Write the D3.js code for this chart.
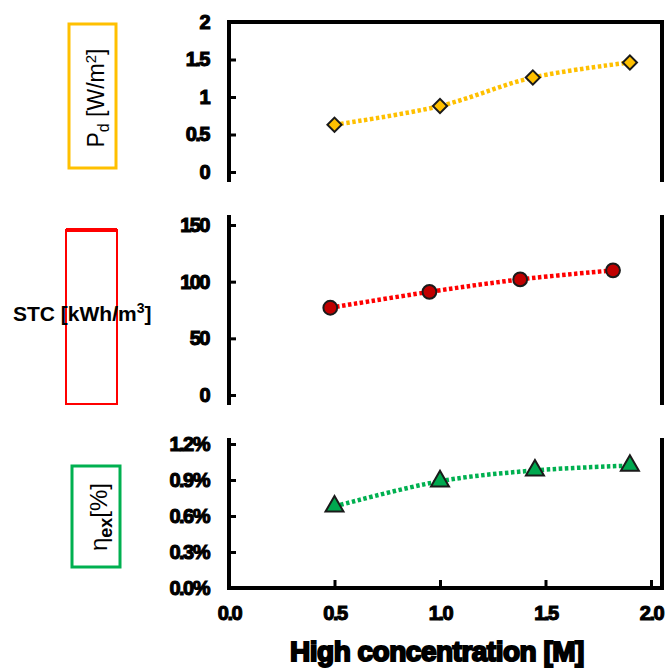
<!DOCTYPE html>
<html>
<head>
<meta charset="utf-8">
<script src="https://cdn.jsdelivr.net/npm/d3@7"></script>
<style>
  body { margin: 0; background: #fff; }
  text { font-family: "Liberation Sans", Arial, sans-serif; }
</style>
</head>
<body>
<svg id="chart" width="668" height="668"></svg>
<script>
// values
let pdConc = [0.5, 1.0, 1.44, 1.9];
let pdValues = [0.63, 0.88, 1.26, 1.46];
let stcConc = [0.48, 0.95, 1.38, 1.82];
let stcValues = [77, 91, 102, 110];
let etaConc = [0.5, 1.0, 1.45, 1.9];
let etaValues = [0.0068, 0.0089, 0.0098, 0.0102];

let xTicks = [0.0, 0.5, 1.0, 1.5, 2.0];
let pdTicks = [0, 0.5, 1, 1.5, 2];
let stcTicks = [0, 50, 100, 150];
let etaTicks = [0, 0.003, 0.006, 0.009, 0.012];

function drawChart() {
    let svg = d3.select("#chart");

    let x = d3.scaleLinear().domain([0, 2]).range([229, 651]);
    let yPd = d3.scaleLinear().domain([0, 2]).range([172, 22]);
    let yStc = d3.scaleLinear().domain([0, 150]).range([395, 225]);
    let yEta = d3.scaleLinear().domain([0, 0.012]).range([588, 444]);

    let xLeft = 229, xRight = 662;

    // frame lines
    let frame = svg.append("g")
        .attr("stroke", "#000")
        .attr("stroke-width", 4)
        .attr("fill", "none");
    frame.append("path").attr("d", `M${xLeft},${yPd(0) + 10}V${yPd(2)}H${xRight}V${yPd(0) + 10}`);
    frame.append("path").attr("d", `M${xLeft},${yStc(150) - 10}V${yStc(0) + 10}`);
    frame.append("path").attr("d", `M${xRight},${yStc(150) - 10}V${yStc(0) + 10}`);
    frame.append("path").attr("d", `M${xLeft},${yEta(0.012) - 6}V${yEta(0)}H${xRight}V${yEta(0.012) - 6}`);

    function styleAxis(g) {
        g.select(".domain").remove();
        g.selectAll(".tick line").attr("stroke", "#000").attr("stroke-width", 3);
        g.selectAll(".tick text")
            .attr("fill", "#000")
            .attr("stroke", "#000")
            .attr("stroke-width", 1.1)
            .style("font-size", "20px")
            .style("font-weight", "bold")
            .style("letter-spacing", "-1.5px");
    }

    svg.append("g")
        .attr("transform", `translate(${xLeft},0)`)
        .call(d3.axisLeft(yPd).tickValues(pdTicks).tickFormat(d3.format("")).tickSizeInner(-7).tickSizeOuter(0).tickPadding(20))
        .call(styleAxis);
    svg.append("g")
        .attr("transform", `translate(${xLeft},0)`)
        .call(d3.axisLeft(yStc).tickValues(stcTicks).tickFormat(d3.format("d")).tickSizeInner(-7).tickSizeOuter(0).tickPadding(20))
        .call(styleAxis);
    svg.append("g")
        .attr("transform", `translate(${xLeft},0)`)
        .call(d3.axisLeft(yEta).tickValues(etaTicks).tickFormat(d3.format(".1%")).tickSizeInner(-7).tickSizeOuter(0).tickPadding(20))
        .call(styleAxis);
    let xAxis = svg.append("g")
        .attr("transform", `translate(0,${yEta(0)})`)
        .call(d3.axisBottom(x).tickValues(xTicks).tickFormat(d3.format(".1f")).tickSizeInner(-8).tickSizeOuter(0).tickPadding(18))
        .call(styleAxis);
    xAxis.selectAll(".tick").filter(d => d === 0).select("line").remove();

    // x title
    svg.append("text")
        .attr("x", 437).attr("y", 661)
        .attr("text-anchor", "middle")
        .attr("fill", "#000").attr("stroke", "#000").attr("stroke-width", 2)
        .style("font-size", "28px").style("font-weight", "bold")
        .style("letter-spacing", "-0.5px")
        .text("High concentration [M]");

    // series
    function series(xs, ys, yScale, lineColor, fillColor, shape, size, rot) {
        let pts = xs.map((v, i) => [x(v), yScale(ys[i])]);
        svg.append("path")
            .attr("d", d3.line().curve(d3.curveCatmullRom)(pts))
            .attr("fill", "none")
            .attr("stroke", lineColor)
            .attr("stroke-width", 4.5)
            .attr("stroke-dasharray", "3.5,2.5");
        svg.selectAll(null)
            .data(pts)
            .enter()
            .append("path")
            .attr("d", d3.symbol().type(shape).size(size))
            .attr("transform", d => `translate(${d[0]},${d[1]}) rotate(${rot})`)
            .attr("fill", fillColor)
            .attr("stroke", "#1a1a1a")
            .attr("stroke-width", 2);
    }
    series(pdConc, pdValues, yPd, "#FFC000", "#FFC000", d3.symbolSquare, 100, 45);
    series(stcConc, stcValues, yStc, "#FF0000", "#C00000", d3.symbolCircle, 150, 0);
    series(etaConc, etaValues, yEta, "#00B050", "#00A84F", d3.symbolTriangle, 140, 0);

    // label boxes
    svg.append("rect").attr("x", 69).attr("y", 24).attr("width", 47).attr("height", 144)
        .attr("fill", "none").attr("stroke", "#FFC000").attr("stroke-width", 3);
    let pd = svg.append("text")
        .attr("transform", "translate(104,98) rotate(-90)")
        .attr("text-anchor", "middle")
        .attr("fill", "#000")
        .style("font-size", "23px");
    pd.append("tspan").text("P");
    pd.append("tspan").attr("dy", 5).style("font-size", "16px").text("d");
    pd.append("tspan").attr("dy", -5).text(" [W/m");
    pd.append("tspan").attr("dy", -8).style("font-size", "15px").text("2");
    pd.append("tspan").attr("dy", 8).text("]");

    svg.append("rect").attr("x", 66).attr("y", 230).attr("width", 51).attr("height", 174)
        .attr("fill", "none").attr("stroke", "#FF0000").attr("stroke-width", 2);
    svg.append("line").attr("x1", 66).attr("x2", 117).attr("y1", 230).attr("y2", 230)
        .attr("stroke", "#FF0000").attr("stroke-width", 4);
    let stc = svg.append("text")
        .attr("x", 13).attr("y", 321)
        .attr("fill", "#000")
        .style("font-size", "21px").style("font-weight", "bold");
    stc.append("tspan").text("STC [kWh/m");
    stc.append("tspan").attr("dy", -8).style("font-size", "14px").text("3");
    stc.append("tspan").attr("dy", 8).text("]");

    svg.append("rect").attr("x", 72).attr("y", 466).attr("width", 48).attr("height", 101)
        .attr("fill", "none").attr("stroke", "#00B050").attr("stroke-width", 3);
    let eta = svg.append("text")
        .attr("transform", "translate(107,517) rotate(-90)")
        .attr("text-anchor", "middle")
        .attr("fill", "#000")
        .style("font-size", "24px");
    eta.append("tspan").text("η");
    eta.append("tspan").attr("dy", 5).style("font-size", "18px").style("font-weight", "bold").text("ex");
    eta.append("tspan").attr("dy", -5).text("[%]");
}

drawChart();
</script>
</body>
</html>
